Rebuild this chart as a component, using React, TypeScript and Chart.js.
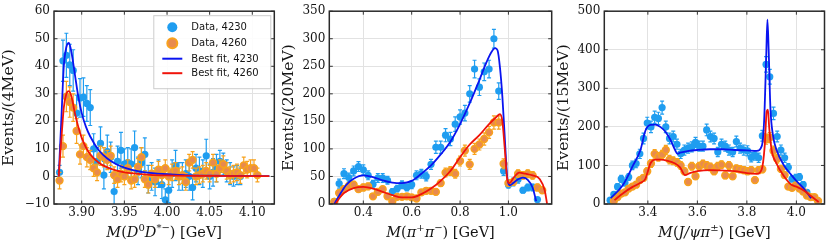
import { useEffect, useRef } from "react";
import { Chart, registerables } from "chart.js";
Chart.register(...registerables);

// ---------------- Panel 1 : M(D0 D*-) ----------------
const p1Bins = [
  3.874, 3.878, 3.882, 3.886, 3.890, 3.894, 3.898, 3.902, 3.906, 3.910,
  3.914, 3.918, 3.922, 3.926, 3.930, 3.934, 3.938, 3.942, 3.946, 3.950,
  3.954, 3.958, 3.962, 3.966, 3.970, 3.974, 3.978, 3.982, 3.986, 3.990,
  3.994, 3.998, 4.002, 4.006, 4.010, 4.014, 4.018, 4.022, 4.026, 4.030,
  4.034, 4.038, 4.042, 4.046, 4.050, 4.054, 4.058, 4.062, 4.066, 4.070,
  4.074, 4.078, 4.082, 4.086, 4.090, 4.094, 4.098, 4.102, 4.106,
];
const p1Data4230 = [
  1.5, 42, 44, 40.5, 38.5, 23, 28.5, 28.8, 26.5, 25,
  10, 5.5, 12, 0.5, 9, 7, -5.5, 5.5, 9.5, 4.5,
  5, 4.5, 10.5, 2, 5, 8, -1, 0, -2, 1,
  -3, -8.5, -5, 1, 4, 0, 0, 1, 0, -4,
  3, 2, 1, 7.5, 0, 1.5, 3, 5.5, 4.5, 2,
  1, 0, 0.5, 0, null, null, null, null, null,
];
const p1Err4230 = [
  2.5, 7.5, 8, 7.5, 7.5, 6.5, 7, 7, 6.5, 6.5,
  5.5, 5, 6, 5, 6, 5.5, 5, 5.5, 6.5, 5.5,
  5.5, 5.5, 6, 5, 5.5, 6, 5, 5, 5, 5,
  5, 4, 4.5, 5, 5.5, 5, 5, 5, 5, 4.5,
  5, 5, 5, 6, 4.5, 5, 5, 4, 4, 4,
  4, 3.5, 3.5, 3, null, null, null, null, null,
];
const p1Data4260 = [
  -1.5, 11, 29, 27, 25, 16.5, 8, 11, 7, 6,
  3, 1.5, 7.5, 7, 6, 7.5, 0.5, -1, 1, 0,
  3, -1.5, -1, 3.5, 7, -1, -3, 1, -1, 2.5,
  0.5, 3, 0, 1.5, 2, 0, 0.5, -2, 5, 6,
  0, 0.5, 1, 2, 1, 5, 1, 3, 4.5, 2,
  0.5, 1, 1.5, 0.5, 4, 2.5, 3, 3, 0.5,
];
const p1Err4260 = [
  3, 4, 5.5, 5.5, 5, 4.5, 3.5, 4, 3.5, 3.5,
  3, 3, 3.5, 3.5, 3.5, 3.5, 3, 3, 3, 3,
  3, 3, 3, 3, 3.5, 3, 3, 3, 3, 3,
  3, 3, 3, 3, 3, 3, 3, 3, 3, 3,
  3, 3, 3, 3, 3, 3, 3, 3, 3, 3,
  3, 3, 3, 3, 3, 3, 3, 3, 2.5,
];
const p1Fit4230X = [3.873, 3.876, 3.879, 3.882, 3.885, 3.888, 3.892, 3.896, 3.900, 3.905, 3.910, 3.920, 3.930, 3.940, 3.950, 3.960, 3.970, 3.980, 4.000, 4.020, 4.050, 4.080, 4.120];
const p1Fit4230Y = [0, 20, 40, 47, 48.5, 45, 37, 29, 23, 18, 14.5, 9.5, 6.5, 4.5, 3.2, 2.3, 1.7, 1.3, 0.8, 0.5, 0.3, 0.2, 0.1];
const p1Fit4260X = [3.873, 3.876, 3.879, 3.882, 3.885, 3.888, 3.892, 3.896, 3.900, 3.905, 3.910, 3.920, 3.930, 3.940, 3.950, 3.960, 3.980, 4.000, 4.050, 4.120];
const p1Fit4260Y = [0, 13, 25, 30, 31, 29, 23, 18, 14, 10.5, 8, 5, 3.3, 2.2, 1.5, 1.1, 0.6, 0.4, 0.2, 0.1];
const p1XTicks = ["3.90", "3.95", "4.00", "4.05", "4.10"];
const p1YTicks = ["−10", "0", "10", "20", "30", "40", "50", "60"];

// ---------------- Panel 2 : M(pi+ pi-) ----------------
const p2Bins = [
  0.28, 0.30, 0.32, 0.34, 0.36, 0.38, 0.40, 0.42, 0.44, 0.46,
  0.48, 0.50, 0.52, 0.54, 0.56, 0.58, 0.60, 0.62, 0.64, 0.66,
  0.68, 0.70, 0.72, 0.74, 0.76, 0.78, 0.80, 0.82, 0.84, 0.86,
  0.88, 0.90, 0.92, 0.94, 0.96, 0.98, 1.00, 1.02, 1.04, 1.06,
  1.08, 1.10, 1.12, 1.14,
];
const p2Data4230 = [
  5, 37, 55, 48, 60, 68, 62, 52, 36, 47,
  47, 43, 22, 28, 35, 30, 35, 52, 55, 50,
  72, 103, 103, 125, 118, 145, 158, 165, 200, 245,
  212, 240, 245, 300, 205, 60, 35, 40, 45, 25,
  30, 30, 8, null,
];
const p2Err4230 = [
  4, 8, 9, 8, 9, 9, 9, 8, 7, 8,
  8, 7, 6, 6, 7, 6, 7, 8, 8, 8,
  9, 11, 11, 12, 12, 13, 13, 14, 15, 16,
  15, 16, 16, 17, 15, 8, 6, 7, 7, 5,
  6, 6, 3, null,
];
const p2Data4260 = [
  4, 20, 27, 33, 35, 27, 30, 32, 14, 22,
  27, 14, 5, 13, 13, 14, 12, 10, 21, 24,
  24, 22, 38, 57, 60, 55, 78, 97, 72, 100,
  108, 118, 130, 148, 148, 73, 38, 40, 55, 52,
  55, 52, 30, 25,
];
const p2Err4260 = [
  3, 5, 6, 6, 6, 5, 6, 6, 4, 5,
  5, 4, 3, 4, 4, 4, 4, 3, 5, 5,
  5, 5, 6, 8, 8, 8, 9, 10, 9, 10,
  10, 11, 11, 12, 12, 9, 6, 6, 7, 7,
  7, 7, 6, 5,
];
const p2Fit4230X = [0.28, 0.30, 0.33, 0.36, 0.40, 0.44, 0.48, 0.52, 0.56, 0.60, 0.64, 0.68, 0.72, 0.76, 0.80, 0.84, 0.88, 0.91, 0.93, 0.945, 0.955, 0.965, 0.975, 0.985, 0.995, 1.005, 1.02, 1.04, 1.06, 1.08, 1.10, 1.115];
const p2Fit4230Y = [0, 15, 35, 46, 52, 49, 43, 39, 38, 42, 55, 70, 90, 113, 145, 183, 225, 258, 276, 283, 279, 248, 195, 120, 49, 34, 38, 45, 48, 44, 30, 5];
const p2Fit4260X = [0.285, 0.30, 0.32, 0.36, 0.40, 0.44, 0.48, 0.52, 0.56, 0.60, 0.64, 0.68, 0.72, 0.76, 0.80, 0.84, 0.88, 0.92, 0.95, 0.965, 0.975, 0.985, 0.995, 1.005, 1.02, 1.045, 1.07, 1.10, 1.13, 1.15, 1.16];
const p2Fit4260Y = [0, 10, 20, 29, 31, 28, 22, 16, 12, 12, 18, 28, 42, 60, 85, 108, 125, 145, 158, 163, 150, 100, 45, 38, 47, 57, 55, 52, 45, 25, 0];
const p2XTicks = ["0.4", "0.6", "0.8", "1.0"];
const p2YTicks = ["0", "50", "100", "150", "200", "250", "300", "350"];

// ---------------- Panel 3 : M(J/psi pi) ----------------
const p3Bins = [
  3.2475, 3.2625, 3.2775, 3.2925, 3.3075, 3.3225, 3.3375, 3.3525, 3.3675, 3.3825,
  3.3975, 3.4125, 3.4275, 3.4425, 3.4575, 3.4725, 3.4875, 3.5025, 3.5175, 3.5325,
  3.5475, 3.5625, 3.5775, 3.5925, 3.6075, 3.6225, 3.6375, 3.6525, 3.6675, 3.6825,
  3.6975, 3.7125, 3.7275, 3.7425, 3.7575, 3.7725, 3.7875, 3.8025, 3.8175, 3.8325,
  3.8475, 3.8625, 3.8775, 3.8925, 3.9075, 3.9225, 3.9375, 3.9525, 3.9675, 3.9825,
  3.9975, 4.0125, 4.0275, 4.0425, 4.0575, 4.0725, 4.0875,
];
const p3Data4230 = [
  10, 25, 45, 65, 55, 70, 100, 105, 130, 170,
  210, 200, 225, 222, 250, 200, 170, 175, 155, 130,
  140, 145, 148, 160, 150, 150, 192, 175, 170, 135,
  155, 150, 140, 135, 162, 145, 140, 138, 121, 126,
  120, 177, 362, 330, 235, 175, 140, 120, 95, 65,
  68, 70, 50, 30, null, null, null,
];
const p3Err4230 = [
  4, 6, 8, 9, 8, 9, 11, 11, 12, 14,
  15, 15, 16, 16, 17, 15, 14, 14, 13, 12,
  13, 13, 13, 13, 13, 13, 15, 14, 14, 12,
  13, 13, 13, 12, 14, 13, 13, 13, 12, 12,
  12, 14, 20, 19, 16, 14, 13, 12, 10, 8,
  9, 9, 8, 6, null, null, null,
];
const p3Data4260 = [
  null, 8, 18, 27, 30, 40, 45, 50, 62, 68,
  85, 105, 130, 122, 128, 140, 115, 112, 108, 100,
  85, 57, 98, 72, 98, 104, 100, 96, 85, 98,
  102, 74, 100, 72, 92, 90, 88, 85, 88, 62,
  88, 90, 168, 172, 138, 117, 91, 75, 45, 42,
  48, 40, 32, 22, 18, 18, 8,
];
const p3Err4260 = [
  null, 3, 4, 5, 5, 6, 6, 7, 7, 8,
  9, 10, 11, 11, 11, 12, 11, 10, 10, 10,
  9, 7, 10, 8, 10, 10, 10, 10, 9, 10,
  10, 8, 10, 8, 9, 9, 9, 9, 9, 8,
  9, 9, 13, 13, 12, 11, 9, 8, 7, 6,
  7, 6, 5, 4, 4, 4, 3,
];
const p3Fit4230X = [3.25, 3.30, 3.34, 3.37, 3.39, 3.41, 3.43, 3.45, 3.47, 3.49, 3.51, 3.52, 3.53, 3.56, 3.60, 3.65, 3.70, 3.75, 3.80, 3.84, 3.86, 3.870, 3.878, 3.883, 3.888, 3.895, 3.905, 3.92, 3.95, 3.98, 4.00, 4.03, 4.06];
const p3Fit4230Y = [15, 50, 100, 140, 190, 205, 206, 200, 188, 168, 140, 130, 133, 137, 140, 142, 142, 140, 139, 138, 150, 220, 380, 478, 400, 250, 180, 140, 100, 75, 60, 40, 15];
const p3Fit4260X = [3.265, 3.30, 3.34, 3.37, 3.39, 3.40, 3.41, 3.43, 3.45, 3.48, 3.51, 3.53, 3.55, 3.57, 3.60, 3.65, 3.70, 3.75, 3.80, 3.84, 3.86, 3.872, 3.880, 3.885, 3.890, 3.90, 3.92, 3.95, 3.98, 4.00, 4.03, 4.06, 4.09];
const p3Fit4260Y = [10, 28, 45, 55, 65, 85, 105, 115, 115, 112, 105, 95, 75, 80, 85, 88, 87, 85, 80, 78, 90, 150, 240, 245, 200, 140, 105, 72, 50, 45, 35, 20, 5];
const p3XTicks = ["3.4", "3.6", "3.8", "4.0"];
const p3YTicks = ["0", "100", "200", "300", "400", "500"];

const seriesLabels = ["Data, 4230", "Data, 4260", "Best fit, 4230", "Best fit, 4260"];

// ---------------- styling ----------------
const SERIF = "'DejaVu Serif', serif";
const SANS = "'DejaVu Sans', sans-serif";
const BLUE_PT = "#1f9df0";
const ORANGE_EDGE = "#f8a21c";
const ORANGE_FACE = "#e88a4e";
const BLUE_LINE = "#0a14f0";
const RED_LINE = "#f0140a";
const TEXT = "#141414";

type Seg = { t: string; it?: boolean; sup?: boolean };
type Panel = {
  bins: number[];
  d4230: (number | null)[];
  e4230: (number | null)[];
  d4260: (number | null)[];
  e4260: (number | null)[];
  f4230x: number[]; f4230y: number[];
  f4260x: number[]; f4260y: number[];
  xTicks: string[]; yTicks: string[];
  xMin: number; xMax: number; yMin: number; yMax: number;
  yTitle: string; xTitle: Seg[];
  left: number; width: number; yW: number; padR: number; legend: boolean;
};

const TOP = 9;
const BOTTOM_H = 45;

const panels: Panel[] = [
  {
    bins: p1Bins, d4230: p1Data4230, e4230: p1Err4230, d4260: p1Data4260, e4260: p1Err4260,
    f4230x: p1Fit4230X, f4230y: p1Fit4230Y, f4260x: p1Fit4260X, f4260y: p1Fit4260Y,
    xTicks: p1XTicks, yTicks: p1YTicks, xMin: 3.8675, xMax: 4.1258, yMin: -10, yMax: 60,
    yTitle: "Events/(4MeV)",
    xTitle: [{ t: "M", it: true }, { t: "(" }, { t: "D", it: true }, { t: "0", sup: true }, { t: "D", it: true }, { t: "*−", sup: true }, { t: ")" }, { t: " [GeV]" }],
    left: 0, width: 280, yW: 54, padR: 5.7, legend: true,
  },
  {
    bins: p2Bins, d4230: p2Data4230, e4230: p2Err4230, d4260: p2Data4260, e4260: p2Err4260,
    f4230x: p2Fit4230X, f4230y: p2Fit4230Y, f4260x: p2Fit4260X, f4260y: p2Fit4260Y,
    xTicks: p2XTicks, yTicks: p2YTicks, xMin: 0.2593, xMax: 1.179, yMin: 0, yMax: 350,
    yTitle: "Events/(20MeV)",
    xTitle: [{ t: "M", it: true }, { t: "(" }, { t: "π", it: true }, { t: "+", sup: true }, { t: "π", it: true }, { t: "−", sup: true }, { t: ")" }, { t: " [GeV]" }],
    left: 280, width: 280, yW: 49.3, padR: 8.3, legend: false,
  },
  {
    bins: p3Bins, d4230: p3Data4230, e4230: p3Err4230, d4260: p3Data4260, e4260: p3Err4260,
    f4230x: p3Fit4230X, f4230y: p3Fit4230Y, f4260x: p3Fit4260X, f4260y: p3Fit4260Y,
    xTicks: p3XTicks, yTicks: p3YTicks, xMin: 3.224, xMax: 4.1136, yMin: 0, yMax: 500,
    yTitle: "Events/(15MeV)",
    xTitle: [{ t: "M", it: true }, { t: "(" }, { t: "J/ψπ", it: true }, { t: "±", sup: true }, { t: ")" }, { t: " [GeV]" }],
    left: 555, width: 275, yW: 49.3, padR: 3.3, legend: false,
  },
];

const num = (s: string) => parseFloat(s.replace("−", "-"));

function points(bins: number[], ys: (number | null)[], es: (number | null)[]) {
  const data: { x: number; y: number }[] = [];
  const errs: number[] = [];
  ys.forEach((y, i) => {
    if (y === null) return;
    data.push({ x: bins[i], y });
    errs.push(es[i] as number);
  });
  return { data, errs };
}

const errorBarPlugin = {
  id: "errorBars",
  beforeDatasetDraw(chart: any, args: any) {
    const ds = chart.data.datasets[args.index];
    if (!ds.errs) return;
    const { ctx, chartArea: a } = chart;
    const xs = chart.scales.x, ys = chart.scales.y;
    ctx.save();
    ctx.beginPath();
    ctx.rect(a.left, a.top, a.right - a.left, a.bottom - a.top);
    ctx.clip();
    ctx.strokeStyle = ds.errColor;
    ctx.lineWidth = 1.2;
    ds.data.forEach((p: any, i: number) => {
      const e = ds.errs[i];
      const px = xs.getPixelForValue(p.x);
      const y1 = ys.getPixelForValue(p.y - e);
      const y2 = ys.getPixelForValue(p.y + e);
      ctx.beginPath();
      ctx.moveTo(px, y1); ctx.lineTo(px, y2);
      ctx.moveTo(px - 2, y1); ctx.lineTo(px + 2, y1);
      ctx.moveTo(px - 2, y2); ctx.lineTo(px + 2, y2);
      ctx.stroke();
    });
    ctx.restore();
  },
};

function decoPlugin(p: Panel) {
  return {
    id: "deco",
    afterDraw(chart: any) {
      const { ctx, chartArea: a } = chart;
      const xs = chart.scales.x, ys = chart.scales.y;
      ctx.save();
      // inward ticks
      ctx.strokeStyle = "#333";
      ctx.lineWidth = 1;
      p.xTicks.forEach((t) => {
        const px = xs.getPixelForValue(num(t));
        ctx.beginPath();
        ctx.moveTo(px, a.bottom); ctx.lineTo(px, a.bottom - 3.5);
        ctx.moveTo(px, a.top); ctx.lineTo(px, a.top + 3.5);
        ctx.stroke();
      });
      p.yTicks.forEach((t) => {
        const py = ys.getPixelForValue(num(t));
        ctx.beginPath();
        ctx.moveTo(a.left, py); ctx.lineTo(a.left + 3.5, py);
        ctx.moveTo(a.right, py); ctx.lineTo(a.right - 3.5, py);
        ctx.stroke();
      });
      // frame
      ctx.strokeStyle = "#2a2a2a";
      ctx.lineWidth = 1.5;
      ctx.strokeRect(a.left, a.top, a.right - a.left, a.bottom - a.top);

      // x title with mixed styles
      const size = 14.5;
      const fontOf = (s: Seg) => `${s.it ? "italic " : ""}${s.sup ? Math.round(size * 0.7) : size}px ${SERIF}`;
      let total = 0;
      p.xTitle.forEach((s) => { ctx.font = fontOf(s); total += ctx.measureText(s.t).width; });
      let x = (a.left + a.right) / 2 - total / 2;
      const base = 237;
      ctx.fillStyle = TEXT;
      ctx.textBaseline = "alphabetic";
      ctx.textAlign = "left";
      p.xTitle.forEach((s) => {
        ctx.font = fontOf(s);
        ctx.fillText(s.t, x, base - (s.sup ? size * 0.42 : 0));
        x += ctx.measureText(s.t).width;
      });

      // legend
      if (p.legend) {
        const bx = a.right - 121, by = a.top + 4, bw = 117, bh = 73;
        ctx.fillStyle = "rgba(255,255,255,0.9)";
        ctx.fillRect(bx, by, bw, bh);
        ctx.strokeStyle = "#cccccc";
        ctx.lineWidth = 1;
        ctx.strokeRect(bx + 0.5, by + 0.5, bw, bh);
        const rows = [by + 12, by + 28, by + 43.5, by + 58];
        const mx = bx + 19;
        ctx.font = `10px ${SANS}`;
        ctx.textBaseline = "middle";
        const labels = chart.data.datasets.map((d: any) => d.label);
        const order = [3, 2, 1, 0];
        order.forEach((di, r) => {
          const ds = chart.data.datasets[di];
          const y = rows[r];
          if (ds.isData) {
            ctx.beginPath();
            ctx.arc(mx, y, 5, 0, Math.PI * 2);
            ctx.fillStyle = ds.pointBackgroundColor;
            ctx.fill();
            if (ds.pointBorderWidth > 0) {
              ctx.lineWidth = 2;
              ctx.strokeStyle = ds.pointBorderColor;
              ctx.stroke();
            }
          } else {
            ctx.beginPath();
            ctx.moveTo(mx - 10, y); ctx.lineTo(mx + 10, y);
            ctx.strokeStyle = ds.borderColor;
            ctx.lineWidth = 2;
            ctx.stroke();
          }
          ctx.fillStyle = TEXT;
          ctx.fillText(labels[di], bx + 38, y + 0.5);
        });
      }
      ctx.restore();
    },
  };
}

function buildConfig(p: Panel): any {
  const b = points(p.bins, p.d4230, p.e4230);
  const o = points(p.bins, p.d4260, p.e4260);
  const xTickVals = p.xTicks.map(num);
  const yTickVals = p.yTicks.map(num);
  return {
    type: "scatter",
    data: {
      datasets: [
        {
          label: seriesLabels[3], data: p.f4260x.map((x, i) => ({ x, y: p.f4260y[i] })),
          showLine: true, pointRadius: 0, borderColor: RED_LINE, borderWidth: 1.8,
          cubicInterpolationMode: "monotone", fill: false,
        },
        {
          label: seriesLabels[2], data: p.f4230x.map((x, i) => ({ x, y: p.f4230y[i] })),
          showLine: true, pointRadius: 0, borderColor: BLUE_LINE, borderWidth: 1.8,
          cubicInterpolationMode: "monotone", fill: false,
        },
        {
          label: seriesLabels[1], data: o.data, errs: o.errs, errColor: ORANGE_EDGE, isData: true,
          pointRadius: 3.4, pointBackgroundColor: ORANGE_FACE, pointBorderColor: ORANGE_EDGE,
          pointBorderWidth: 1.5, showLine: false,
        },
        {
          label: seriesLabels[0], data: b.data, errs: b.errs, errColor: BLUE_PT, isData: true,
          pointRadius: 3.6, pointBackgroundColor: BLUE_PT, pointBorderColor: BLUE_PT,
          pointBorderWidth: 0, showLine: false,
        },
      ],
    },
    options: {
      animation: false,
      responsive: false,
      devicePixelRatio: 1,
      events: [],
      layout: { padding: { left: 0, right: p.padR, top: TOP, bottom: 0 } },
      plugins: { legend: { display: false }, tooltip: { enabled: false } },
      scales: {
        x: {
          type: "linear", min: p.xMin, max: p.xMax,
          afterFit: (s: any) => { s.height = BOTTOM_H; },
          afterBuildTicks: (s: any) => { s.ticks = xTickVals.map((v) => ({ value: v })); },
          ticks: {
            font: { family: SERIF, size: 12 }, color: TEXT, padding: 2, maxRotation: 0,
            callback: (v: number) => { const i = xTickVals.findIndex((t) => Math.abs(t - v) < 1e-9); return i >= 0 ? p.xTicks[i] : ""; },
          },
          grid: { color: "#e2e2e2", lineWidth: 1, drawTicks: false },
          border: { display: false },
        },
        y: {
          type: "linear", min: p.yMin, max: p.yMax,
          afterFit: (s: any) => { s.width = p.yW; },
          afterBuildTicks: (s: any) => { s.ticks = yTickVals.map((v) => ({ value: v })); },
          ticks: {
            font: { family: SERIF, size: 12 }, color: TEXT, padding: 4,
            callback: (v: number) => { const i = yTickVals.findIndex((t) => Math.abs(t - v) < 1e-9); return i >= 0 ? p.yTicks[i] : ""; },
          },
          grid: { color: "#e2e2e2", lineWidth: 1, drawTicks: false },
          border: { display: false },
          title: { display: true, text: p.yTitle, font: { family: SERIF, size: 15.5 }, color: TEXT, padding: { top: 0, bottom: 0 } },
        },
      },
    },
    plugins: [errorBarPlugin, decoPlugin(p)],
  };
}

export default function App() {
  const r0 = useRef<HTMLCanvasElement>(null);
  const r1 = useRef<HTMLCanvasElement>(null);
  const r2 = useRef<HTMLCanvasElement>(null);
  const refs = [r0, r1, r2];
  useEffect(() => {
    const charts = panels.map((p, i) => new Chart(refs[i].current as HTMLCanvasElement, buildConfig(p)));
    return () => charts.forEach((c) => c.destroy());
  }, []);
  return (
    <div style={{ position: "absolute", left: 0, top: 0, width: 830, height: 249, background: "#fff" }}>
      {panels.map((p, i) => (
        <canvas
          key={i}
          ref={refs[i]}
          width={p.width}
          height={249}
          style={{ position: "absolute", left: p.left, top: 0, width: p.width, height: 249 }}
        />
      ))}
    </div>
  );
}
